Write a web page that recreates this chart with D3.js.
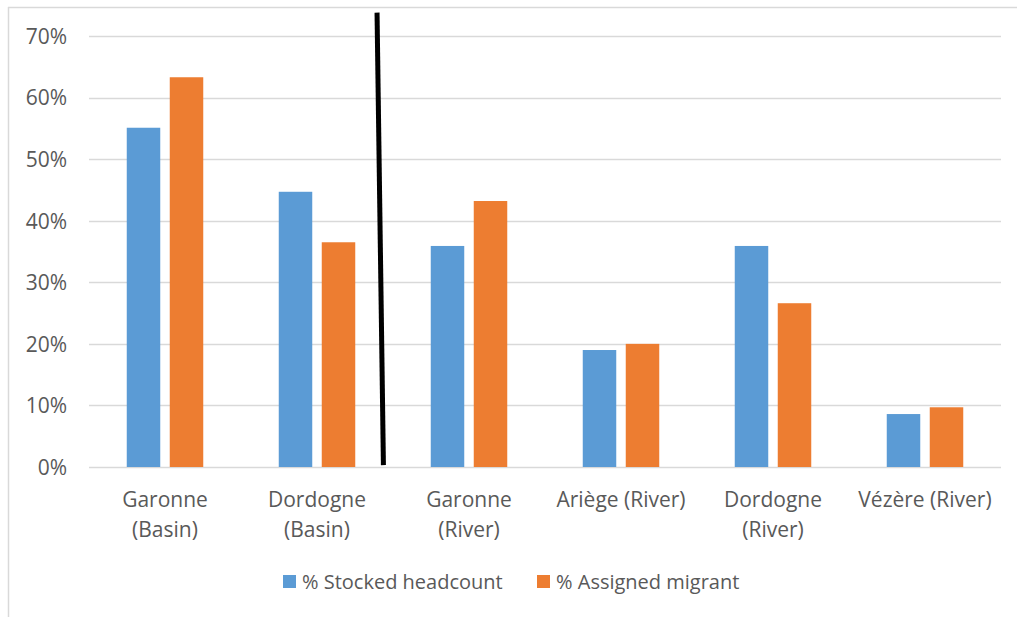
<!DOCTYPE html>
<html>
<head>
<meta charset="utf-8">
<script src="https://cdn.jsdelivr.net/npm/d3@7"></script>
<style>
html,body{margin:0;padding:0;background:#fff;}
svg{display:block;}
text{font-family:"Open Sans","Noto Sans",sans-serif;fill:#595959;}
</style>
</head>
<body>
<svg id="chart" width="1017" height="617"></svg>
<script>
const categories = [["Garonne","(Basin)"],["Dordogne","(Basin)"],["Garonne","(River)"],["Ariège (River)"],["Dordogne","(River)"],["Vézère (River)"]];
const seriesNames = ["% Stocked headcount","% Assigned migrant"];
const stocked = [0.551, 0.447, 0.359, 0.190, 0.359, 0.086];
const assigned = [0.633, 0.365, 0.432, 0.200, 0.266, 0.097];
const yTicks = [0,0.1,0.2,0.3,0.4,0.5,0.6,0.7];
const colors = ["#5b9bd5","#ed7d31"];

const svg = d3.select("#chart");
const W = 1017, H = 617;

// outer frame (top + left only visible)
svg.append("line").attr("x1",8).attr("x2",W).attr("y1",7.5).attr("y2",7.5).attr("stroke","#d9d9d9").attr("stroke-width",1.5);
svg.append("line").attr("x1",8.5).attr("x2",8.5).attr("y1",7).attr("y2",H).attr("stroke","#d9d9d9").attr("stroke-width",1.5);

const x = d3.scaleBand().domain(d3.range(categories.length)).range([89,1001]).paddingInner(0).paddingOuter(0);
const y = d3.scaleLinear().domain([0,0.7]).range([467,36]);
const barW = 33.5, gap = 9.5;

// gridlines
svg.append("g").selectAll("line").data(yTicks).join("line")
  .attr("x1",89).attr("x2",1001)
  .attr("y1",d=>Math.round(y(d))+0.5).attr("y2",d=>Math.round(y(d))+0.5)
  .attr("stroke","#d9d9d9").attr("stroke-width",1.5);

// y labels
const yAxis = d3.axisLeft(y).tickValues(yTicks).tickFormat(d3.format(".0%")).tickSize(0).tickPadding(0);
const ga = svg.append("g").attr("transform","translate(67,0)").call(yAxis);
ga.select(".domain").remove();
ga.selectAll("text").attr("font-size",21).attr("fill","#595959").attr("font-family","'Open Sans',sans-serif").attr("dy","0.35em");

// bars
const series = [stocked, assigned];
const groupW = barW*2+gap;
series.forEach((vals,si)=>{
  svg.append("g").selectAll("rect").data(vals).join("rect")
    .attr("x",(d,i)=>x(i)+x.bandwidth()/2-groupW/2+si*(barW+gap))
    .attr("width",barW)
    .attr("y",d=>y(d))
    .attr("height",d=>y(0)-y(d))
    .attr("fill",colors[si]);
});

// category labels
const gl = svg.append("g");
categories.forEach((lines,i)=>{
  const cx = x(i)+x.bandwidth()/2;
  const t = gl.append("text").attr("text-anchor","middle").attr("font-size",21)
    .attr("x",cx).attr("y",507);
  lines.forEach((ln,k)=>t.append("tspan").attr("x",cx).attr("dy",k===0?0:30).text(ln));
});

// annotation: black divider line between basin and river groups
const bx0 = x(1)+x.bandwidth()*0.895, bx1 = x(1)+x.bandwidth()*0.937;
svg.append("line").attr("x1",bx0).attr("y1",y(0.738)).attr("x2",bx1).attr("y2",y(0.003))
  .attr("stroke","#000").attr("stroke-width",5);

// legend
const legendItems = [{name:seriesNames[0],c:colors[0],x:283},{name:seriesNames[1],c:colors[1],x:537}];
const lg = svg.append("g");
legendItems.forEach(it=>{
  lg.append("rect").attr("x",it.x).attr("y",575).attr("width",13).attr("height",13).attr("fill",it.c);
  lg.append("text").attr("x",it.x+19).attr("y",589).attr("font-size",20).text(it.name);
});
</script>
</body>
</html>
